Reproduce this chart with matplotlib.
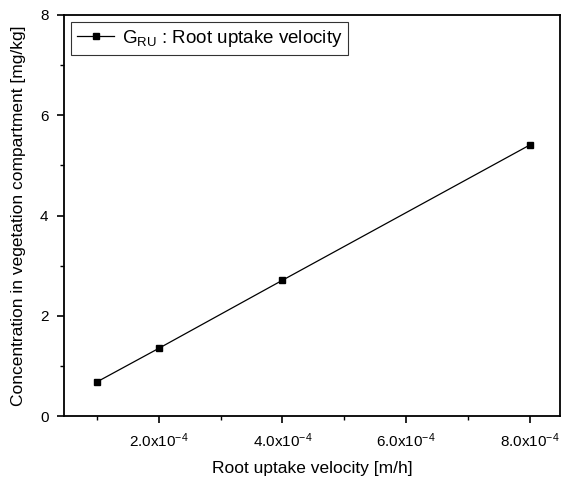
import matplotlib
matplotlib.use("Agg")
import matplotlib.pyplot as plt
from matplotlib.ticker import FixedLocator

plt.rcParams['font.family'] = ['Liberation Sans', 'DejaVu Sans']
plt.rcParams['mathtext.fontset'] = 'custom'
plt.rcParams['mathtext.rm'] = 'Liberation Sans'
plt.rcParams['mathtext.it'] = 'Liberation Sans'
plt.rcParams['mathtext.default'] = 'regular'

velocity = [1e-4, 2e-4, 4e-4, 8e-4]
concentration = [0.68, 1.35, 2.71, 5.41]
xtick_values = [2e-4, 4e-4, 6e-4, 8e-4]
xtick_labels = [r'$2.0x10^{-4}$', r'$4.0x10^{-4}$', r'$6.0x10^{-4}$', r'$8.0x10^{-4}$']
yticks = [0, 2, 4, 6, 8]

fig = plt.figure(figsize=(5.65, 4.8), dpi=100)
ax = fig.add_axes([0.113, 0.133, 0.878, 0.836])
ax.plot(velocity, concentration, color='black', lw=0.9, marker='s', ms=5,
        label=r'$G_{RU}$ : Root uptake velocity')
ax.set_xlim(0.47e-4, 8.48e-4)
ax.set_ylim(0, 8)
ax.set_xticks(xtick_values)
ax.set_xticklabels(xtick_labels, fontsize=11)
ax.xaxis.set_minor_locator(FixedLocator([1e-4, 3e-4, 5e-4, 7e-4]))
ax.set_yticks(yticks)
ax.set_yticklabels([str(v) for v in yticks], fontsize=11)
ax.yaxis.set_minor_locator(FixedLocator([1, 3, 5, 7]))
ax.tick_params(which='major', direction='out', length=5, width=1.2, pad=6)
ax.tick_params(which='minor', direction='out', length=3, width=1.0)
for s in ax.spines.values():
    s.set_linewidth(1.3)
ax.set_xlabel('Root uptake velocity [m/h]', fontsize=12.5, labelpad=8)
ax.set_ylabel('Concentration in vegetation compartment [mg/kg]', fontsize=12.5, labelpad=10)
leg = ax.legend(loc='upper left', fontsize=13.5, frameon=True, fancybox=False,
                edgecolor='black', borderaxespad=0.4, handlelength=2.0,
                borderpad=0.3, handletextpad=0.4)
leg.get_frame().set_linewidth(0.8)
fig.savefig('out.png', dpi=100)
